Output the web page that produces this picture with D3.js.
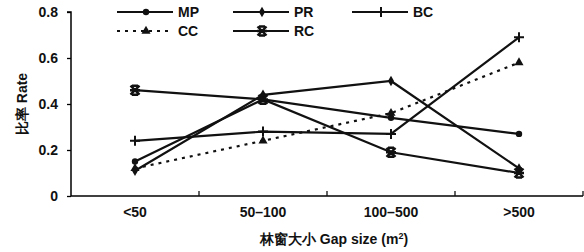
<!DOCTYPE html>
<html>
<head>
<meta charset="utf-8">
<script src="https://cdn.jsdelivr.net/npm/d3@7"></script>
<style>
  body { margin: 0; background: #fff; }
  text { font-family: "Liberation Sans", Arial, sans-serif; font-weight: bold; fill: #111; }
</style>
</head>
<body>
<svg id="chart" width="584" height="252"></svg>
<script>
// categories and series
var categories = ['<50', '50–100', '100–500', '>500'];
var mpValues = [0.15, 0.42, 0.34, 0.27];
var prValues = [0.11, 0.44, 0.50, 0.12];
var bcValues = [0.24, 0.28, 0.27, 0.69];
var ccValues = [0.12, 0.24, 0.36, 0.58];
var rcValues = [0.46, 0.42, 0.19, 0.10];
var yTicks = [0, 0.2, 0.4, 0.6, 0.8];

var series = [
    { name: 'MP', values: mpValues, symbol: 'circle', dash: null },
    { name: 'PR', values: prValues, symbol: 'diamond', dash: null },
    { name: 'BC', values: bcValues, symbol: 'plus', dash: null },
    { name: 'CC', values: ccValues, symbol: 'triangle', dash: '3,5' },
    { name: 'RC', values: rcValues, symbol: 'star', dash: null }
];

var svg = d3.select('#chart');
var padding = { t: 12, r: 1, b: 56, l: 71 };
var chartWidth = 584 - padding.l - padding.r;
var chartHeight = 252 - padding.t - padding.b;

var chartG = svg.append('g')
    .attr('transform', 'translate(' + [padding.l, padding.t] + ')');

var xScale = d3.scaleBand().domain(categories).range([0, chartWidth]);
var yScale = d3.scaleLinear().domain([0, 0.8]).range([chartHeight, 0]);

// y axis
var yAxis = chartG.append('g')
    .call(d3.axisLeft(yScale).tickValues(yTicks).tickSize(4).tickPadding(9)
        .tickFormat(d => d === 0 ? '0' : d3.format('.1f')(d)));
yAxis.select('.domain').attr('stroke-width', 1.5).attr('d', 'M-4,0H0V' + chartHeight);
yAxis.selectAll('line').attr('stroke-width', 1.3);
yAxis.selectAll('text').style('font-size', '14px');

// x axis: ticks point up at band borders
var xAxis = chartG.append('g')
    .attr('transform', 'translate(0,' + chartHeight + ')')
    .call(d3.axisBottom(xScale).tickSize(0).tickPadding(11));
xAxis.select('.domain').attr('stroke-width', 1.5).attr('d', 'M0,0H' + chartWidth);
xAxis.selectAll('text').style('font-size', '14px');
var borders = categories.map(c => xScale(c) + xScale.bandwidth());
xAxis.selectAll('.border')
    .data(borders)
    .enter().append('line')
    .attr('class', 'border')
    .attr('x1', d => d).attr('x2', d => d)
    .attr('y1', 0).attr('y2', -5)
    .attr('stroke', '#111').attr('stroke-width', 1.3);

// axis titles
svg.append('text')
    .attr('transform', 'translate(27,' + (padding.t + chartHeight / 2) + ') rotate(-90)')
    .attr('text-anchor', 'middle')
    .style('font-size', '14px')
    .text('比率 Rate');

svg.append('text')
    .attr('x', 334)
    .attr('y', 244)
    .attr('text-anchor', 'middle')
    .style('font-size', '14px')
    .html('林窗大小 Gap size (m<tspan dy="-5" style="font-size:9px">2</tspan><tspan dy="5">)</tspan>');

function drawMarker(g, type) {
    if (type === 'circle') {
        g.append('circle').attr('r', 3.2).attr('fill', '#111');
    } else if (type === 'diamond') {
        g.append('path').attr('d', d3.symbol(d3.symbolDiamond, 32)()).attr('fill', '#111');
    } else if (type === 'plus') {
        g.append('path').attr('d', 'M-5,0H5M0,-5V5').attr('stroke', '#111').attr('stroke-width', 2);
    } else if (type === 'triangle') {
        g.append('path').attr('d', d3.symbol(d3.symbolTriangle, 36)()).attr('fill', '#111');
    } else if (type === 'star') {
        g.append('path').attr('d', 'M-4.5,-4.5L4.5,4.5M4.5,-4.5L-4.5,4.5M-5,0H5M-3,-4.5H3M-3,4.5H3')
            .attr('stroke', '#111').attr('stroke-width', 2.4);
    }
}

var line = d3.line()
    .x((d, i) => xScale(categories[i]) + xScale.bandwidth() / 2)
    .y(d => yScale(d));

series.forEach(function (s) {
    chartG.append('path')
        .datum(s.values)
        .attr('d', line)
        .attr('fill', 'none')
        .attr('stroke', '#111')
        .attr('stroke-width', 2.2)
        .attr('stroke-dasharray', s.dash);

    s.values.forEach(function (v, i) {
        var g = chartG.append('g')
            .attr('transform', 'translate(' + [xScale(categories[i]) + xScale.bandwidth() / 2, yScale(v)] + ')');
        drawMarker(g, s.symbol);
    });
});

// legend
var legendCols = [117, 233, 352];
var legendRows = [12, 31];
series.forEach(function (s, i) {
    var lx = legendCols[i % 3];
    var ly = legendRows[Math.floor(i / 3)];
    var lg = svg.append('g').attr('transform', 'translate(' + [lx, ly] + ')');
    lg.append('line')
        .attr('x1', 0).attr('x2', 56).attr('y1', 0).attr('y2', 0)
        .attr('stroke', '#111').attr('stroke-width', 2.2)
        .attr('stroke-dasharray', s.dash);
    drawMarker(lg.append('g').attr('transform', 'translate(29,0)'), s.symbol);
    lg.append('text')
        .attr('x', 61).attr('y', 5)
        .style('font-size', '14px')
        .text(s.name);
});
</script>
</body>
</html>
